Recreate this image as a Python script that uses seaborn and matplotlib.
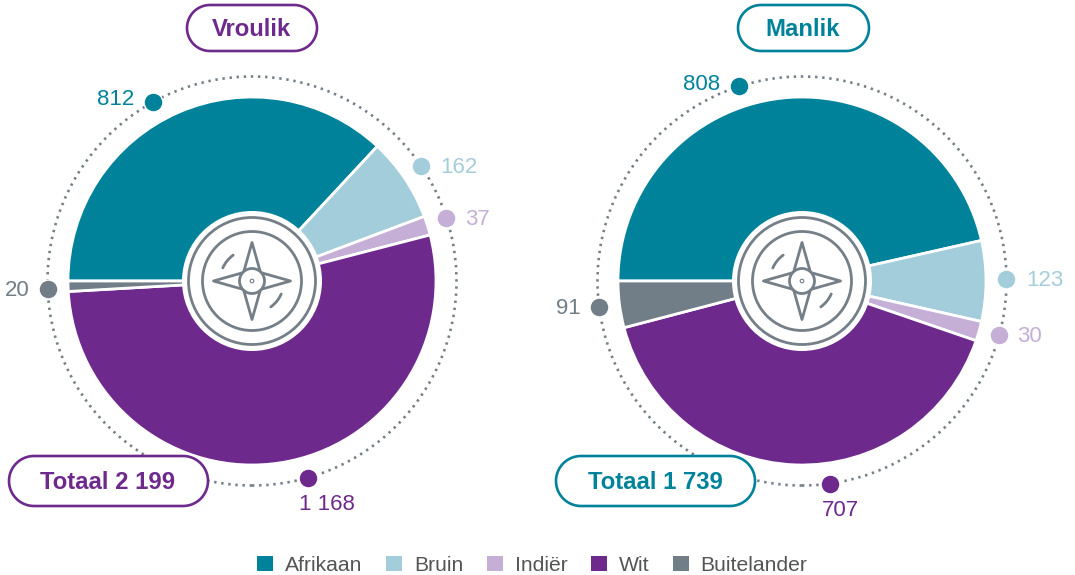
import matplotlib
matplotlib.use('Agg')
import matplotlib.pyplot as plt
from matplotlib.patches import Circle, Arc, Polygon, Patch
import numpy as np
import seaborn as sns

categories = ['Afrikaan', 'Bruin', 'Indiër', 'Wit', 'Buitelander']
vroulik = [812, 162, 37, 1168, 20]
manlik = [808, 123, 30, 707, 91]
total_values = [2199, 1739]
titles = ['Vroulik', 'Manlik']
totals = ['Totaal 2 199', 'Totaal 1 739']
value_labels = [['812', '162', '37', '1 168', '20'], ['808', '123', '30', '707', '91']]

colors = ['#00829B', '#A4CDDB', '#C5AFD6', '#6E298D', '#717D87']
sns.set_theme(style='white')
plt.rcParams['font.family'] = ['Liberation Sans', 'DejaVu Sans']
palette = sns.color_palette(colors)
GREY = '#747F88'
H = 575
RING = 204.5


def y(p):
    # pixels from the top -> axes coords
    return H - p


def pill(ax, x0, x1, y0, y1, edge, text):
    r = (y1 - y0) / 2
    mid = y((y0 + y1) / 2)
    t = np.linspace(-np.pi / 2, np.pi / 2, 40)
    right = np.c_[x1 - r + r * np.cos(t), mid + r * np.sin(t)]
    left = np.c_[x0 + r - r * np.cos(t), mid - r * np.sin(t)]
    ax.add_patch(Polygon(np.r_[right, left], closed=True, fc='white', ec=edge, lw=1.9, zorder=6))
    ax.text((x0 + x1) / 2 - 0.5, mid - 1.5, text, color=edge, fontsize=17.2,
            fontweight='bold', ha='center', va='center', zorder=7)


def compass(ax, cx, cy):
    ax.add_patch(Circle((cx, cy), 70, fc='white', ec='none', zorder=3))
    for r in [63.5, 49.5]:
        ax.add_patch(Circle((cx, cy), r, fc='none', ec=GREY, lw=2, zorder=4))
    a, b = 38.5, 8.5
    star = [(0, a), (b, b), (a, 0), (b, -b), (0, -a), (-b, -b), (-a, 0), (-b, b)]
    ax.add_patch(Polygon([(cx + i, cy + j) for i, j in star], closed=True, fc='white',
                         ec=GREY, lw=2, joinstyle='round', zorder=4))
    ax.add_patch(Circle((cx, cy), 12.5, fc='white', ec=GREY, lw=2, zorder=5))
    ax.add_patch(Circle((cx, cy), 1.8, fc='white', ec=GREY, lw=0.8, zorder=5))
    for t1, t2 in [(126, 156), (-54, -24)]:
        ax.add_patch(Arc((cx, cy), 64, 64, theta1=t1, theta2=t2, ec=GREY, lw=2,
                         capstyle='round', zorder=4))


fig = plt.figure(figsize=(10.75, 5.75), dpi=100)
ax = fig.add_axes([0, 0, 1, 1])

panels = [
    dict(vals=vroulik, cx=252, edge=palette[3], head=(187, 317), tot=(9, 208),
         nudge=[5.3, 0.5, 0.5, 7, 0.6],
         off=[(-19, 4), (19, 0), (19, 0), (19, -25), (-18, 0)], i=0),
    dict(vals=manlik, cx=802, edge=palette[0], head=(738, 869), tot=(556, 755),
         nudge=[11.6, 0.5, 0.5, 10, 0],
         off=[(-19, 3), (20, 0), (18, 0), (10, -25), (-18, 0)], i=1),
]

for p in panels:
    cx, cy = p['cx'], y(281)
    vals = np.array(p['vals'], dtype=float)
    # the slices follow the printed total; the last slice takes what is left of it
    vals[-1] = total_values[p['i']] - vals[:-1].sum()
    ax.pie(vals, colors=palette, startangle=180, counterclock=False, radius=184,
           center=(cx, cy), frame=True,
           wedgeprops=dict(edgecolor='white', linewidth=2))
    ax.add_patch(Circle((cx, cy), RING, fc='none', ec=GREY, lw=1.9,
                        ls=(0, (0.9, 1.8)), zorder=2))
    compass(ax, cx, cy)

    # value dots sit on the dotted ring, near the middle of each slice
    ends = 180 - np.cumsum(vals) / vals.sum() * 360
    mids = ends + vals / vals.sum() * 180
    for k, (m, n) in enumerate(zip(mids, p['nudge'])):
        a = np.deg2rad(m + n)
        px, py = cx + RING * np.cos(a), cy + RING * np.sin(a)
        ax.plot(px, py, 'o', ms=13.6, mfc=palette[k], mec='white', mew=1, zorder=5)
        dx, dy = p['off'][k]
        ha = 'center' if dy < 0 else 'left' if dx > 0 else 'right'
        ax.text(px + dx, py + dy - 1.5, value_labels[p['i']][k], color=palette[k], fontsize=16,
                ha=ha, va='center', zorder=7)

    pill(ax, p['head'][0], p['head'][1], 5, 51, p['edge'], titles[p['i']])
    pill(ax, p['tot'][0], p['tot'][1], 456, 506, p['edge'], totals[p['i']])

ax.set_xlim(0, 1075)
ax.set_ylim(0, H)
ax.set_aspect('equal')
ax.axis('off')

handles = [Patch(fc=c, ec='none', label=n) for c, n in zip(palette, categories)]
fig.legend(handles=handles, loc='lower center', bbox_to_anchor=(0.4953, -0.033), ncol=5,
           frameon=False, fontsize=15.2, handlelength=0.76, handleheight=0.76,
           handletextpad=0.57, columnspacing=1.1, labelcolor='#555555')

fig.savefig('out.png', dpi=100)
